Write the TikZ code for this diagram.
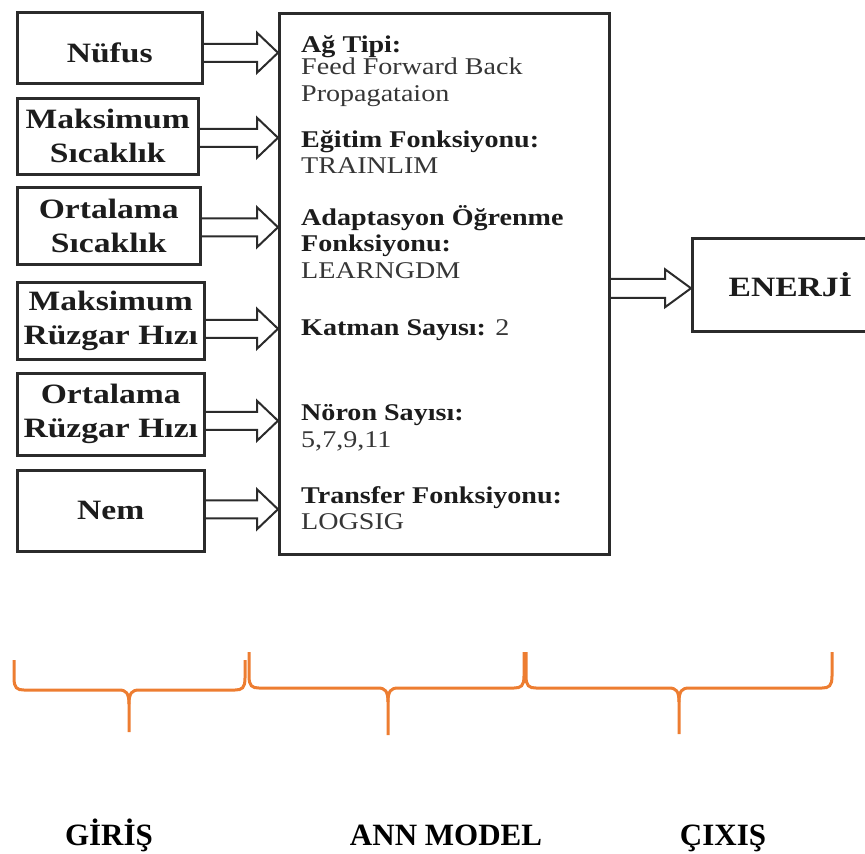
\documentclass[tikz,border=0pt]{standalone}
\usepackage{fontspec}
\setmainfont{Liberation Serif}
\newfontfamily\boxfont[FakeStretch=1.2]{Liberation Serif}
\newfontfamily\midfont[FakeStretch=1.17]{Liberation Serif}
\usetikzlibrary{calc}
\definecolor{lineclr}{HTML}{2B2B2B}
\definecolor{txtclr}{HTML}{1C1C1C}
\definecolor{regclr}{HTML}{363636}
\definecolor{bracec}{HTML}{ED7D31}
\tikzset{
  inbox/.style={draw=lineclr, line width=2.5pt, rectangle, inner sep=0pt,
    align=center, anchor=north west, text=txtclr,
    font=\boxfont\bfseries\fontsize{28}{34}\selectfont},
  modelbox/.style={draw=lineclr, line width=2.5pt, rectangle, inner sep=0pt, anchor=north west},
  midbold/.style={anchor=base west, inner sep=0pt, text=txtclr,
    font=\midfont\bfseries\fontsize{24}{27}\selectfont},
  midreg/.style={anchor=base west, inner sep=0pt, text=regclr,
    font=\midfont\fontsize{24}{27}\selectfont},
  fatarr/.style={draw=lineclr, line width=2pt, line join=miter},
  bracestyle/.style={draw=bracec, line width=3pt, line cap=butt},
  steplabel/.style={anchor=base, inner sep=0pt, text=black,
    font=\bfseries\fontsize{31}{36}\selectfont}
}
% hollow block arrow: #1 start, #2 tip (same height), #3 head length, #4 shaft half, #5 head half
\newcommand\fatarrow[5]{%
  \draw[fatarr] let \p1=(#1), \p2=(#2) in
    (\x1,{\y1+#4pt}) -- ({\x2-#3pt},{\y1+#4pt}) -- ({\x2-#3pt},{\y1+#5pt})
    -- (\x2,\y1) -- ({\x2-#3pt},{\y1-#5pt}) -- ({\x2-#3pt},{\y1-#4pt}) -- (\x1,{\y1-#4pt});}
% open brace: #1 xl, #2 xr, #3 top y, #4 bar y, #5 tip x, #6 tip y
\newcommand\openbrace[6]{%
  \draw[bracestyle] (#1,#3) -- (#1,#4-12) .. controls (#1,#4-2) and (#1+3,#4) .. (#1+10,#4)
    -- (#5-10,#4) .. controls (#5-3,#4) and (#5,#4+3) .. (#5,#4+14) -- (#5,#6);
  \draw[bracestyle] (#5,#4+14) .. controls (#5,#4+3) and (#5+3,#4) .. (#5+10,#4)
    -- (#2-10,#4) .. controls (#2-3,#4) and (#2,#4-2) .. (#2,#4-12) -- (#2,#3);}
\begin{document}
\begin{tikzpicture}[x=1pt,y=-1pt]
\useasboundingbox (0,0) rectangle (865,854);
\clip (0,0) rectangle (865,854);

% input boxes
\node[inbox, minimum width=185pt, minimum height=71pt, text height=29pt] (n1) at (16,11) {Nüfus};
\node[inbox, minimum width=181pt, minimum height=76pt] (n2) at (16,97) {Maksimum\\Sıcaklık};
\node[inbox, minimum width=183pt, minimum height=77pt] (n3) at (16,186) {Ortalama\\Sıcaklık};
\node[inbox, minimum width=187pt, minimum height=77pt] (n4) at (16,281) {Maksimum\\Rüzgar Hızı};
\node[inbox, minimum width=187pt, minimum height=82pt] (n5) at (16,372) {Ortalama\\Rüzgar Hızı};
\node[inbox, minimum width=187pt, minimum height=81pt] (n6) at (16,469) {Nem};

% model box
\node[modelbox, minimum width=330pt, minimum height=541pt] (model) at (278,12) {};

% output box
\node[inbox, minimum width=196pt, minimum height=93pt] (out) at (691,237) {ENERJİ};

% model text
\node[midbold] (t1) at (301,52) {Ağ Tipi:};
\node[midreg] (t2) at (301,74) {Feed Forward Back};
\node[midreg] (t3) at (301,101) {Propagataion};
\node[midbold] (t4) at (301,147) {Eğitim Fonksiyonu:};
\node[midreg] (t5) at (301,173) {TRAINLIM};
\node[midbold] (t6) at (301,225) {Adaptasyon Öğrenme};
\node[midbold] (t7) at (301,251) {Fonksiyonu:};
\node[midreg] (t8) at (301,278) {LEARNGDM};
\node[midbold] (t9) at (301,335) {Katman Sayısı: {\mdseries\color{regclr}2}};
\node[midbold] (t10) at (301,420) {Nöron Sayısı:};
\node[midreg] (t11) at (301,447) {5,7,9,11};
\node[midbold] (t12) at (301,503) {Transfer Fonksiyonu:};
\node[midreg] (t13) at (301,529) {LOGSIG};

% arrows
\coordinate (s1) at ($(n1.east)+(0,5)$);
\coordinate (e1) at (model.west |- s1);
\coordinate (s2) at ($(n2.east)+(0,1.5)$);
\coordinate (e2) at (model.west |- s2);
\coordinate (s3) at ($(n3.east)+(0,1.5)$);
\coordinate (e3) at (model.west |- s3);
\coordinate (s4) at ($(n4.east)+(0,8)$);
\coordinate (e4) at (model.west |- s4);
\coordinate (s5) at ($(n5.east)+(0,6.5)$);
\coordinate (e5) at (model.west |- s5);
\coordinate (s6) at ($(n6.east)+(0,-1.5)$);
\coordinate (e6) at (model.west |- s6);
\coordinate (so) at ($(model.east)+(0,4.5)$);
\coordinate (eo) at (out.west |- so);
\fatarrow{s1}{e1}{21}{9}{20}
\fatarrow{s2}{e2}{21}{9}{20}
\fatarrow{s3}{e3}{21}{9}{20}
\fatarrow{s4}{e4}{21}{9}{20}
\fatarrow{s5}{e5}{21}{9}{20}
\fatarrow{s6}{e6}{21}{9}{20}
\fatarrow{so}{eo}{26}{9.5}{19}

% braces
\openbrace{14}{245}{660}{690}{129}{732}
\openbrace{249}{524}{652}{688}{388}{735}
\openbrace{526}{832}{652}{688}{679}{734}

% labels
\node[steplabel] (l1) at (109,845) {GİRİŞ};
\node[steplabel] (l2) at (446,845) {ANN MODEL};
\node[steplabel] (l3) at (723,845) {ÇIXIŞ};
\end{tikzpicture}
\end{document}
